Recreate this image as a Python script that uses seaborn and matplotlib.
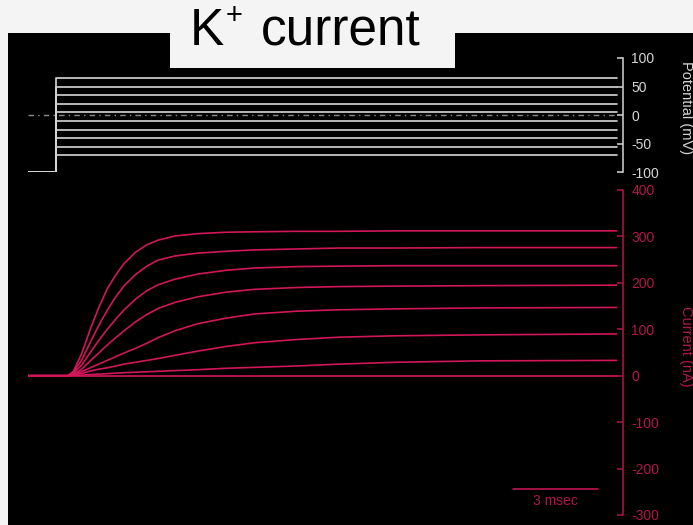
import matplotlib
matplotlib.use('Agg')
import matplotlib.pyplot as plt
import seaborn as sns
import pandas as pd
from matplotlib.patches import Rectangle

# ---- data ----
# voltage clamp protocol (mV)
hold_mv = -100
step_mv = [65, 50, 35, 20, 5, -10, -25, -40, -55, -70]
t_start, t_step, t_end = -1.0, 0.0, 19.8

# K+ current traces (nA) sampled at these times (ms)
t_ms = [-1, 0, 0.4, 0.6, 0.9, 1.2, 1.5, 1.8, 2.1, 2.4, 2.8, 3.2, 3.6, 4.2,
        5, 6, 7, 8.5, 10, 12, 15, 19.8]
i_65 = [0, 0, 0, 9, 48, 100, 147, 187, 217, 242, 266, 282, 292, 301,
        306, 309, 310, 311, 311, 312, 312, 312]
i_50 = [0, 0, 0, 7, 34, 72, 108, 141, 170, 194, 218, 236, 249, 258,
        264, 268, 271, 273, 275, 275, 276, 276]
i_35 = [0, 0, 0, 5, 23, 50, 76, 100, 122, 142, 165, 183, 196, 208,
        219, 227, 232, 235, 236, 237, 237, 237]
i_20 = [0, 0, 0, 3, 14, 32, 49, 66, 82, 97, 116, 132, 145, 158,
        170, 180, 186, 190, 192, 193, 194, 195]
i_5 = [0, 0, 0, 2, 9, 17, 25, 33, 41, 49, 59, 70, 82, 97,
       112, 124, 133, 139, 142, 144, 146, 147]
i_m10 = [0, 0, 0, 1.5, 5, 10, 14, 17, 21, 25, 29, 33, 37, 44,
         53, 63, 71, 78, 83, 86, 88, 90]
i_m25 = [0, 0, 0, 0.5, 1.5, 2.5, 3.5, 4.5, 5.5, 6.5, 7.5, 8.5, 9.5, 11,
         13, 16, 18, 21, 25, 29, 32, 33]
i_m40 = [0] * len(t_ms)
trace_names = ['65', '50', '35', '20', '5', '-10', '-25', '-40']
traces = [i_65, i_50, i_35, i_20, i_5, i_m10, i_m25, i_m40]

scale_ms = 3

BG = '#f4f4f4'
RED = '#d0175a'
RED_TXT = '#b3164a'
GREY = '#d6d6d6'

rows = []
for name, vals in zip(trace_names, traces):
    for t, i in zip(t_ms, vals):
        rows.append({'t': t, 'I': i, 'trace': name})
cur_df = pd.DataFrame(rows)

vrows = []
for v in step_mv:
    for t, y in zip([t_start, t_step, t_step, t_end], [hold_mv, hold_mv, v, v]):
        vrows.append({'t': t, 'V': y, 'step': str(v)})
volt_df = pd.DataFrame(vrows)

sns.set_theme(style='white')
plt.rcParams['font.family'] = ['Liberation Sans', 'DejaVu Sans']
plt.rcParams['axes.unicode_minus'] = False

W, H = 693, 525
fig = plt.figure(figsize=(W / 100, H / 100), dpi=100, facecolor=BG)

# black panel with the notch for the title
fig.add_artist(Rectangle((8 / W, 0), 1 - 8 / W, 1 - 33 / H, transform=fig.transFigure,
                         facecolor='black', edgecolor='none', zorder=0))
fig.add_artist(Rectangle((170 / W, 1 - 68 / H), (455 - 170) / W, 68 / H,
                         transform=fig.transFigure, facecolor=BG, edgecolor='none', zorder=0))
fig.text(190 / W, 1 - 45 / H, 'K', fontsize=37, ha='left', va='baseline', color='black')
fig.text(234 / W, 1 - 16 / H, '+', fontsize=21, ha='center', va='center', color='black')
fig.text(261 / W, 1 - 45 / H, 'current', fontsize=37, ha='left', va='baseline', color='black')

x0, xw = 28 / W, 595 / W
x_lim = (-1, -1 + 595 / 28.3)
ax_v = fig.add_axes([x0, 1 - 172.5 / H, xw, 114.5 / H])
ax_i = fig.add_axes([x0, 1 - 515 / H, xw, 325 / H])

# voltage steps
ax_v.plot([t_start, t_end - 0.05], [0, 0], color='#8a8a8a', lw=1.0,
          dashes=(4, 3, 1, 3))
sns.lineplot(data=volt_df, x='t', y='V', units='step', estimator=None, sort=False,
             color=GREY, lw=1.2, ax=ax_v)

# currents
sns.lineplot(data=cur_df, x='t', y='I', units='trace', estimator=None, sort=False,
             color=RED, lw=1.2, ax=ax_i)

# scale bar
sb_x, sb_y = 16.15, -243
ax_i.plot([sb_x, sb_x + scale_ms], [sb_y, sb_y], color=RED, lw=1.1)
ax_i.text(sb_x + scale_ms / 2, sb_y - 11, f'{scale_ms} msec', color=RED_TXT,
          fontsize=10, ha='center', va='top')

for ax, col, lim, ticks, lab, ly in [
        (ax_v, GREY, (-100, 100), [-100, -50, 0, 50, 100], 'Potential (mV)', 0.57),
        (ax_i, RED_TXT, (-300, 400), list(range(-300, 401, 100)), 'Current (nA)', 0.52)]:
    ax.set_facecolor('none')
    ax.set_xlim(*x_lim)
    ax.set_ylim(*lim)
    ax.set_yticks(ticks)
    for s in ['left', 'top', 'bottom']:
        ax.spines[s].set_visible(False)
    ax.spines['right'].set_visible(True)
    ax.spines['right'].set_color(col)
    ax.spines['right'].set_linewidth(1.1)
    ax.yaxis.tick_right()
    ax.tick_params(axis='y', direction='in', length=4, width=1.1, colors=col,
                   labelsize=10, pad=6, right=True, left=False)
    ax.tick_params(axis='x', bottom=False, labelbottom=False)
    ax.set_xlabel('')
    ax.set_ylabel(lab, color=col, fontsize=10.5, rotation=-90)
    ax.yaxis.set_label_position('right')
    ax.yaxis.set_label_coords(1.106, ly)
    ax.yaxis.label.set_rotation_mode('default')
    ax.yaxis.label.set_va('center')
    ax.yaxis.label.set_ha('center')

fig.savefig('out.png', dpi=100, facecolor=BG)
